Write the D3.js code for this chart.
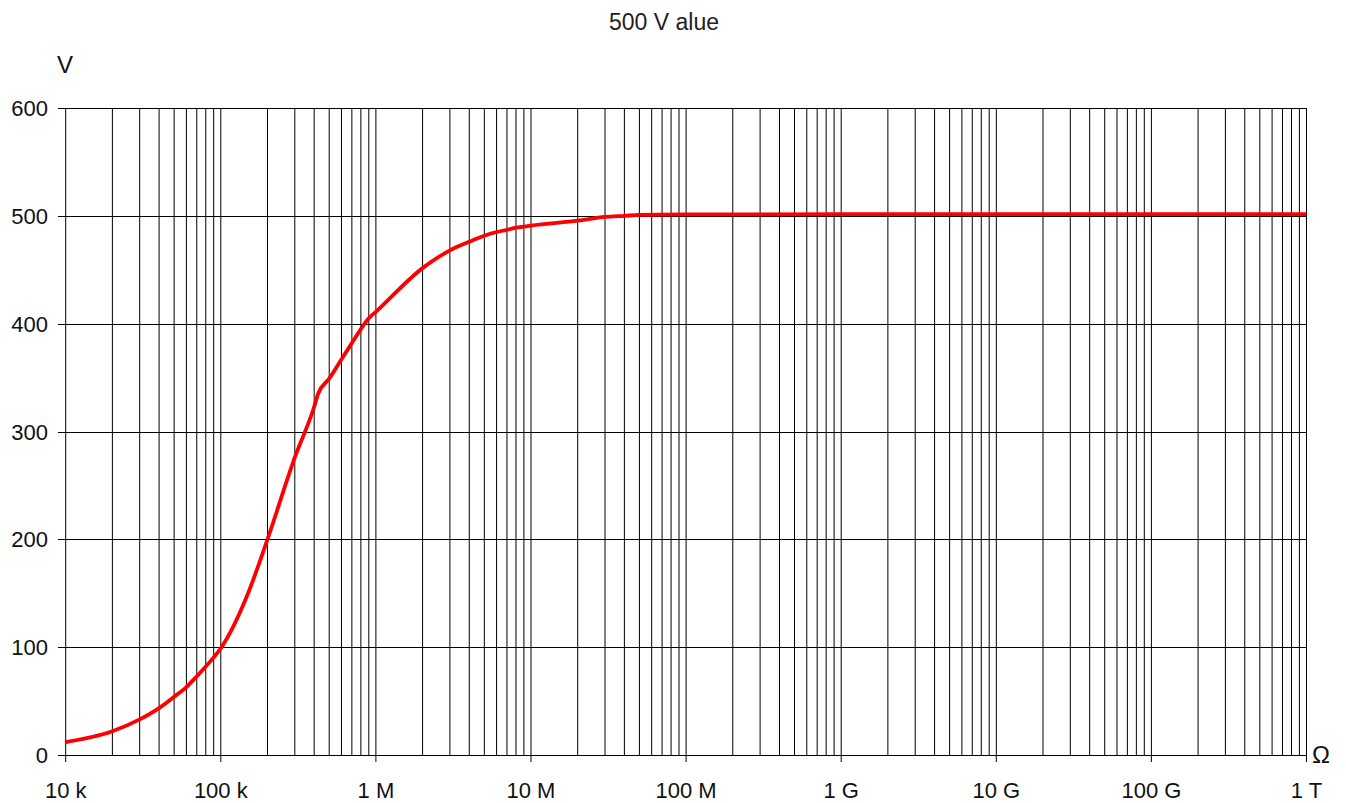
<!DOCTYPE html>
<html>
<head>
<meta charset="utf-8">
<script src="https://cdn.jsdelivr.net/npm/d3@7"></script>
<style>
  body { margin: 0; background: #fff; }
  svg { font-family: "Liberation Sans", Arial, sans-serif; }
</style>
</head>
<body>
<div id="canvas"></div>
<script>
// resistance (ohm) and measured voltage (V)
const resistance = [1e4, 2e4, 3e4, 4e4, 5e4, 6e4, 7e4, 8e4, 9e4, 1e5, 1.5e5, 2e5, 3e5, 4e5, 4.24e5,
  5e5, 6e5, 7e5, 8e5, 9e5, 1e6, 2e6, 3e6, 4e6, 5e6, 6e6, 7e6, 8e6, 9e6, 1e7, 2e7, 3e7, 4e7, 5e7, 1e8, 1e9, 1e10, 1e11, 1e12];
const voltage = [12, 22, 33, 43.5, 54, 63, 73, 82, 90.5, 99, 150, 200, 276, 323, 335,
  349, 367, 382, 395, 405, 411, 451.5, 468, 476, 481.5, 485, 487, 489, 490, 491, 495.5, 499, 500, 500.8, 501.3, 501.5, 501.5, 501.5, 501.5];

const decadeTicks = [1e4, 1e5, 1e6, 1e7, 1e8, 1e9, 1e10, 1e11, 1e12];
const decadeLabels = ['10 k', '100 k', '1 M', '10 M', '100 M', '1 G', '10 G', '100 G', '1 T'];
const voltTicks = [0, 100, 200, 300, 400, 500, 600];

const w = 1346;
const h = 803;

const svg = d3.select('#canvas')
  .append('svg')
  .attr('width', w)
  .attr('height', h);

const xScale = d3.scaleLog()
  .domain([1e4, 1e12])
  .range([65.7, 1306.5]);

const yScale = d3.scaleLinear()
  .domain([0, 600])
  .range([755, 108]);

// vertical grid: every minor step of each decade
const minorTicks = [];
decadeTicks.forEach(function(d) {
  if (d < 1e12) {
    for (let m = 1; m < 10; m++) minorTicks.push(d * m);
  } else {
    minorTicks.push(d);
  }
});

svg.append('g')
  .selectAll('line')
  .data(minorTicks)
  .enter()
  .append('line')
  .attr('x1', d => xScale(d))
  .attr('x2', d => xScale(d))
  .attr('y1', yScale(600))
  .attr('y2', yScale(0))
  .attr('stroke', '#000')
  .attr('stroke-width', 1);

// decade ticks below the axis
svg.append('g')
  .selectAll('line')
  .data(decadeTicks)
  .enter()
  .append('line')
  .attr('x1', d => xScale(d))
  .attr('x2', d => xScale(d))
  .attr('y1', yScale(0))
  .attr('y2', yScale(0) + 7)
  .attr('stroke', '#000')
  .attr('stroke-width', 1);

// horizontal grid
svg.append('g')
  .selectAll('line')
  .data(voltTicks)
  .enter()
  .append('line')
  .attr('x1', 58)
  .attr('x2', xScale(1e12))
  .attr('y1', d => Math.round(yScale(d)) + 0.5)
  .attr('y2', d => Math.round(yScale(d)) + 0.5)
  .attr('stroke', '#000')
  .attr('stroke-width', 1);

svg.append('g')
  .selectAll('text')
  .data(voltTicks)
  .enter()
  .append('text')
  .attr('x', 48)
  .attr('y', d => yScale(d) + 8)
  .attr('text-anchor', 'end')
  .style('font-size', '22px')
  .attr('fill', '#111')
  .text(d => d);

svg.append('g')
  .selectAll('text')
  .data(decadeTicks)
  .enter()
  .append('text')
  .attr('x', d => xScale(d))
  .attr('y', 798)
  .attr('text-anchor', 'middle')
  .style('font-size', '22px')
  .attr('fill', '#111')
  .text((d, i) => decadeLabels[i]);

// curve
const line = d3.line()
  .x((d, i) => xScale(resistance[i]))
  .y(d => yScale(d))
  .curve(d3.curveMonotoneX);

svg.append('path')
  .datum(voltage)
  .attr('d', line)
  .attr('fill', 'none')
  .attr('stroke', '#ff0000')
  .attr('stroke-width', 3.8)
  .attr('stroke-linejoin', 'round');

// labels
svg.append('text')
  .attr('x', 664)
  .attr('y', 30)
  .attr('text-anchor', 'middle')
  .style('font-size', '23px')
  .attr('fill', '#222')
  .text('500 V alue');

svg.append('text')
  .attr('x', 65)
  .attr('y', 73)
  .attr('text-anchor', 'middle')
  .style('font-size', '24px')
  .attr('fill', '#111')
  .text('V');

svg.append('text')
  .attr('x', 1312)
  .attr('y', 763)
  .style('font-size', '24px')
  .attr('fill', '#111')
  .text('Ω');
</script>
</body>
</html>
